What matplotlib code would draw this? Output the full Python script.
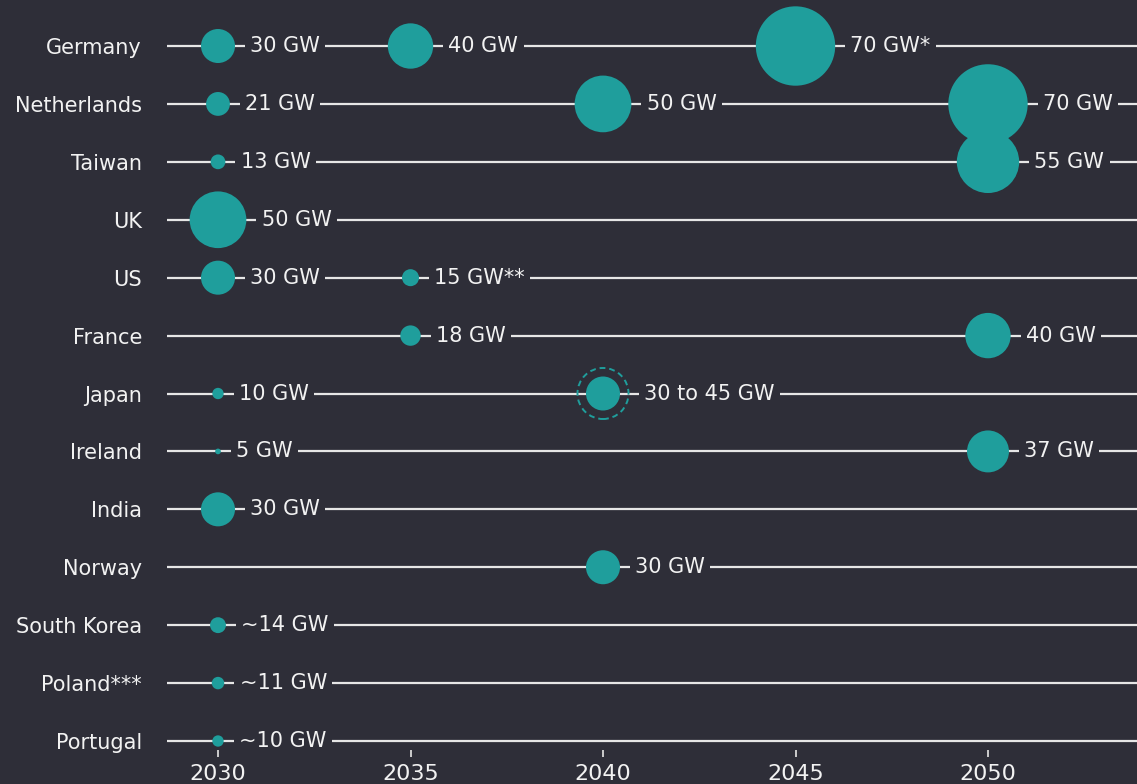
import matplotlib.pyplot as plt

# offshore wind targets by country: year, capacity (GW) and label
countries = ["Germany", "Netherlands", "Taiwan", "UK", "US", "France", "Japan",
             "Ireland", "India", "Norway", "South Korea", "Poland***", "Portugal"]
target_years = [[2030, 2035, 2045], [2030, 2040, 2050], [2030, 2050], [2030],
                [2030, 2035], [2035, 2050], [2030, 2040], [2030, 2050], [2030],
                [2040], [2030], [2030], [2030]]
target_gw = [[30, 40, 70], [21, 50, 70], [13, 55], [50], [30, 15], [18, 40],
             [10, 30], [5, 37], [30], [30], [14], [11], [10]]
target_labels = [["30 GW", "40 GW", "70 GW*"], ["21 GW", "50 GW", "70 GW"],
                 ["13 GW", "55 GW"], ["50 GW"], ["30 GW", "15 GW**"],
                 ["18 GW", "40 GW"], ["10 GW", "30 to 45 GW"], ["5 GW", "37 GW"],
                 ["30 GW"], ["30 GW"], ["~14 GW"], ["~11 GW"], ["~10 GW"]]
# Japan's range upper bound, drawn as a dashed ring
range_country = "Japan"
range_year = 2040
range_high = 45

xticks = [2030, 2035, 2040, 2045, 2050]

bg = "#2e2e38"
teal = "#1f9e9c"
fg = "#f2f2f2"
line_col = "#e6e6e6"

px_per_gw = 0.567  # bubble radius in pixels per GW
dpi = 100


def bubble_size(gw):
    diam_pt = 2 * gw * px_per_gw * 72 / dpi
    return diam_pt ** 2


fig = plt.figure(figsize=(11.37, 7.84), dpi=dpi, facecolor=bg)
ax = fig.add_axes([167 / 1137, 34 / 784, 1 - 167 / 1137, 750 / 784])
ax.set_facecolor(bg)

rows = range(len(countries))
for i in rows:
    ax.axhline(i, color=line_col, lw=1.6, zorder=1)
    for yr, gw, lab in zip(target_years[i], target_gw[i], target_labels[i]):
        ax.scatter(yr, i, s=bubble_size(gw), color=teal, edgecolor="none",
                   zorder=3, clip_on=False)
        r_gw = gw
        if countries[i] == range_country and yr == range_year:
            ax.scatter(yr, i, s=bubble_size(range_high), facecolor="none",
                       edgecolor=teal, linestyle=(0, (3, 2)), lw=1.4, zorder=3,
                       clip_on=False)
            r_gw = range_high
        r_pt = r_gw * px_per_gw * 72 / dpi
        ax.annotate(lab, (yr, i), xytext=(r_pt + 11, 0), textcoords="offset points",
                    ha="left", va="center", fontsize=15, color=fg, zorder=4,
                    bbox=dict(boxstyle="square,pad=0.25", facecolor=bg, edgecolor="none"))

ax.set_xlim(2030 - 51 / 38.5, 2030 + 919 / 38.5)
ax.set_ylim(12 + 9 / 57.9, -46 / 57.9)

ax.set_yticks(list(rows))
ax.set_yticklabels(countries, fontsize=15, color=fg)
ax.tick_params(axis="y", length=0, pad=18)

ax.set_xticks(xticks)
ax.set_xticklabels([str(x) for x in xticks], fontsize=16, color=fg)
ax.tick_params(axis="x", direction="out", length=5, width=1.2, color=line_col, pad=5)

for sp in ax.spines.values():
    sp.set_visible(False)

fig.savefig("out.png", dpi=dpi, facecolor=bg)
